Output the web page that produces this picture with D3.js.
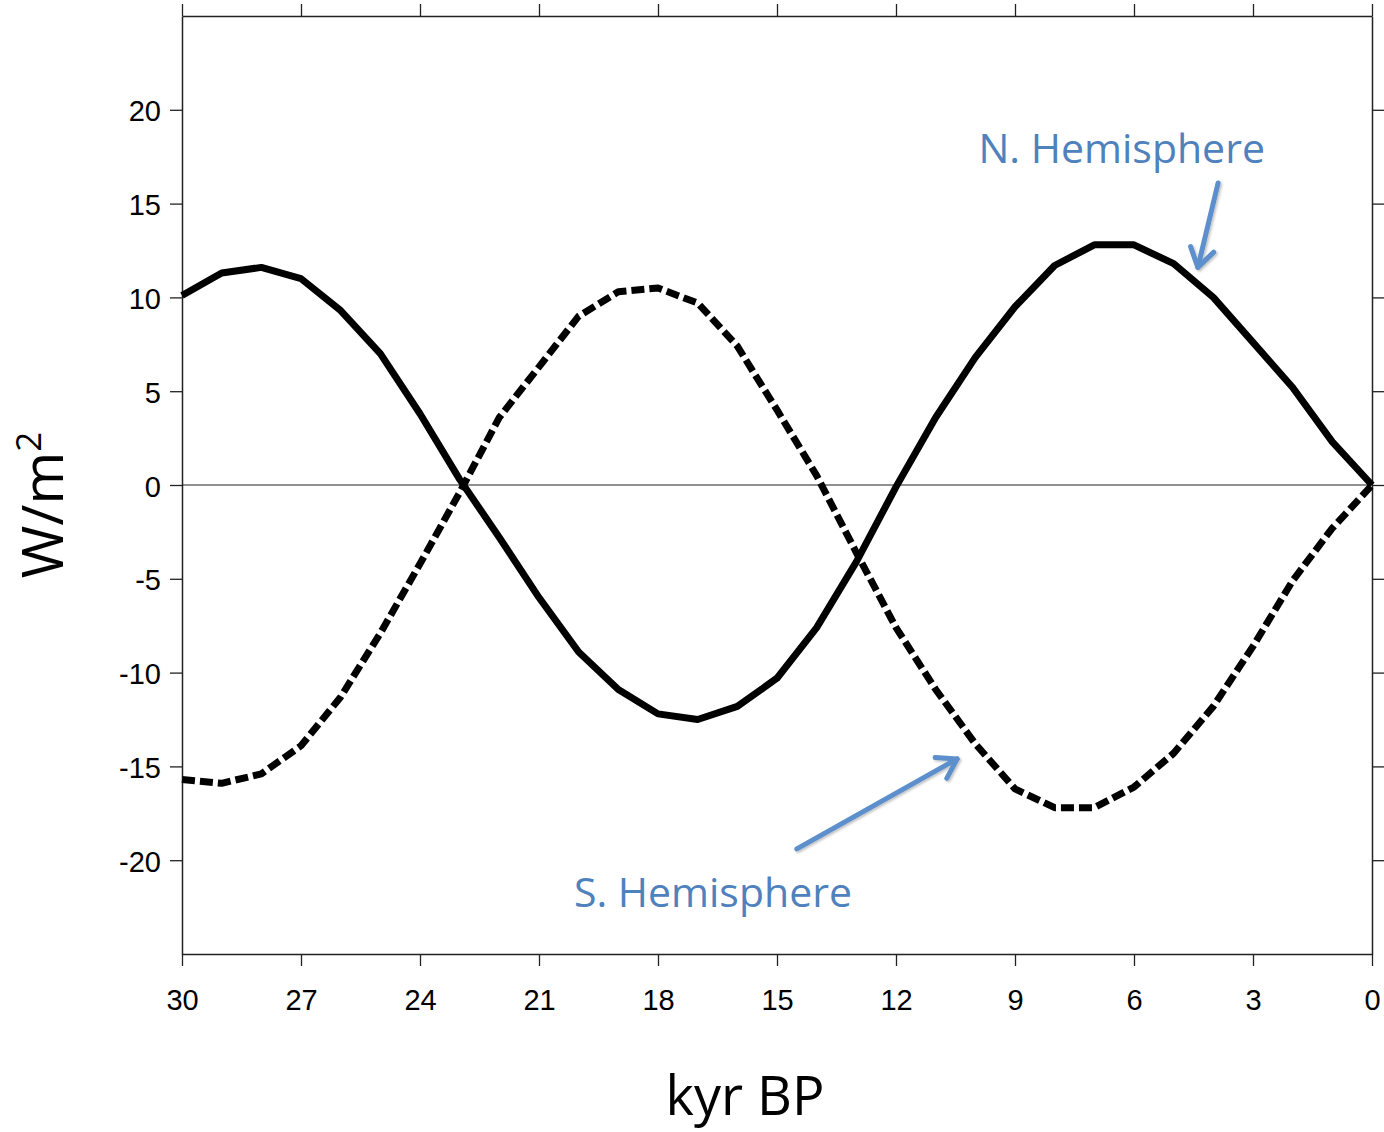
<!DOCTYPE html>
<html>
<head>
<meta charset="utf-8">
<script src="https://cdn.jsdelivr.net/npm/d3@7"></script>
<style>
  html, body { margin: 0; padding: 0; background: #fff; }
  svg { display: block; }
  .tick text { font-family: "Liberation Sans", Arial, sans-serif; fill: #000; }
</style>
</head>
<body>
<script>
// Insolation anomaly by hemisphere over the last 30 kyr (W/m2)
const years = [30, 29, 28, 27, 26, 25, 24, 23, 22, 21, 20, 19, 18, 17, 16, 15,
               14, 13, 12, 11, 10, 9, 8, 7, 6, 5, 4, 3, 2, 1, 0];
const northHemisphere = [10.1, 11.3, 11.6, 11.0, 9.3, 7.0, 3.8, 0.3, -2.8, -6.0, -8.9,
                         -10.9, -12.2, -12.5, -11.8, -10.3, -7.6, -4.1, -0.1, 3.6, 6.8,
                         9.5, 11.7, 12.8, 12.8, 11.8, 10.0, 7.6, 5.2, 2.3, 0.0];
const southHemisphere = [-15.7, -15.9, -15.4, -13.9, -11.3, -7.9, -4.2, -0.4, 3.6, 6.3, 9.0,
                         10.3, 10.5, 9.7, 7.4, 4.0, 0.5, -3.6, -7.6, -10.9, -13.8,
                         -16.2, -17.2, -17.2, -16.1, -14.3, -11.8, -8.6, -5.1, -2.3, 0.0];
const xTicks = [30, 27, 24, 21, 18, 15, 12, 9, 6, 3, 0];
const yTicks = [-20, -15, -10, -5, 0, 5, 10, 15, 20];

// Callout labels with arrows, in data units (kyr BP, W/m2)
const callouts = [
  { text: "N. Hemisphere", labelX: 9.92, labelY: 17.17, from: [3.88, 16.1], to: [4.39, 11.6] },
  { text: "S. Hemisphere", labelX: 20.12, labelY: -22.5, from: [14.5, -19.4], to: [10.46, -14.6] }
];

const W = 1384, H = 1132;
const margin = { left: 182, right: 12, top: 16, bottom: 178 };

const svg = d3.select("body").append("svg").attr("width", W).attr("height", H);

const x = d3.scaleLinear().domain([30, 0]).range([margin.left, W - margin.right]);
const y = d3.scaleLinear().domain([-25, 25]).range([H - margin.bottom, margin.top]);

const defs = svg.append("defs");
const shadow = defs.append("filter").attr("id", "arrowShadow")
  .attr("x", "-20%").attr("y", "-20%").attr("width", "140%").attr("height", "140%");
shadow.append("feDropShadow").attr("dx", 1.5).attr("dy", 1.5).attr("stdDeviation", 1.2)
  .attr("flood-color", "#000").attr("flood-opacity", 0.25);

// Zero reference line
svg.append("line")
  .attr("x1", x(30)).attr("x2", x(0))
  .attr("y1", y(0)).attr("y2", y(0))
  .attr("stroke", "#222").attr("stroke-width", 1.2);

// Plain hyphen for negative tick labels
const fmt = d => String(d);

// Frame with outward ticks on all four sides
const tickLen = 12;
const fontSize = 29;
const gB = svg.append("g").attr("transform", `translate(0,${y(-25)})`)
  .call(d3.axisBottom(x).tickValues(xTicks).tickFormat(fmt).tickSizeInner(tickLen).tickSizeOuter(0).tickPadding(23));
const gT = svg.append("g").attr("transform", `translate(0,${y(25)})`)
  .call(d3.axisTop(x).tickValues(xTicks).tickSizeInner(tickLen).tickSizeOuter(0).tickFormat(""));
const gL = svg.append("g").attr("transform", `translate(${x(30)},0)`)
  .call(d3.axisLeft(y).tickValues(yTicks).tickFormat(fmt).tickSizeInner(tickLen).tickSizeOuter(0).tickPadding(9));
const gR = svg.append("g").attr("transform", `translate(${x(0)},0)`)
  .call(d3.axisRight(y).tickValues(yTicks).tickSizeInner(tickLen).tickSizeOuter(0).tickFormat(""));

[gB, gT, gL, gR].forEach(g => {
  g.select(".domain").attr("stroke", "#222").attr("stroke-width", 1.5);
  g.selectAll(".tick line").attr("stroke", "#222").attr("stroke-width", 1.3);
  g.selectAll(".tick text").attr("font-size", fontSize).attr("fill", "#000");
});
gB.selectAll(".tick text").attr("dy", "0.71em");
gL.selectAll(".tick text").attr("dy", "0.38em");

// Curves
const line = d3.line()
  .x((d, i) => x(years[i]))
  .y(d => y(d));

svg.append("path")
  .datum(southHemisphere)
  .attr("d", line)
  .attr("fill", "none")
  .attr("stroke", "#000")
  .attr("stroke-width", 7)
  .attr("stroke-dasharray", "13,5")
  .attr("stroke-linejoin", "round");

svg.append("path")
  .datum(northHemisphere)
  .attr("d", line)
  .attr("fill", "none")
  .attr("stroke", "#000")
  .attr("stroke-width", 7)
  .attr("stroke-linejoin", "round");

// Axis titles
svg.append("text")
  .attr("x", 745).attr("y", 1115)
  .attr("text-anchor", "middle")
  .attr("font-family", "'Open Sans', sans-serif")
  .attr("font-size", 54)
  .attr("fill", "#000")
  .text("kyr BP");

const yTitle = svg.append("text")
  .attr("transform", "translate(63,505) rotate(-90)")
  .attr("text-anchor", "middle")
  .attr("font-family", "'Open Sans', sans-serif")
  .attr("font-size", 57)
  .attr("fill", "#000");
yTitle.append("tspan").text("W/m");
yTitle.append("tspan").attr("font-size", 35).attr("dy", -22).text("2");

// Callouts
const blue = "#4F81BD";
const arrowBlue = "#5B8FCC";
callouts.forEach(c => {
  svg.append("text")
    .attr("x", x(c.labelX)).attr("y", y(c.labelY))
    .attr("font-family", "'Open Sans', sans-serif")
    .attr("font-size", 41)
    .attr("fill", blue)
    .text(c.text);

  const x1 = x(c.from[0]), y1 = y(c.from[1]);
  const x2 = x(c.to[0]), y2 = y(c.to[1]);
  const ang = Math.atan2(y2 - y1, x2 - x1);
  const head = 22, spread = Math.PI / 5.5;
  const g = svg.append("g").attr("filter", "url(#arrowShadow)")
    .attr("stroke", arrowBlue).attr("stroke-width", 5).attr("fill", "none")
    .attr("stroke-linecap", "round").attr("stroke-linejoin", "round");
  g.append("line").attr("x1", x1).attr("y1", y1).attr("x2", x2).attr("y2", y2);
  g.append("path").attr("d", d3.line()([
    [x2 - head * Math.cos(ang - spread), y2 - head * Math.sin(ang - spread)],
    [x2, y2],
    [x2 - head * Math.cos(ang + spread), y2 - head * Math.sin(ang + spread)]
  ]));
});
</script>
</body>
</html>
